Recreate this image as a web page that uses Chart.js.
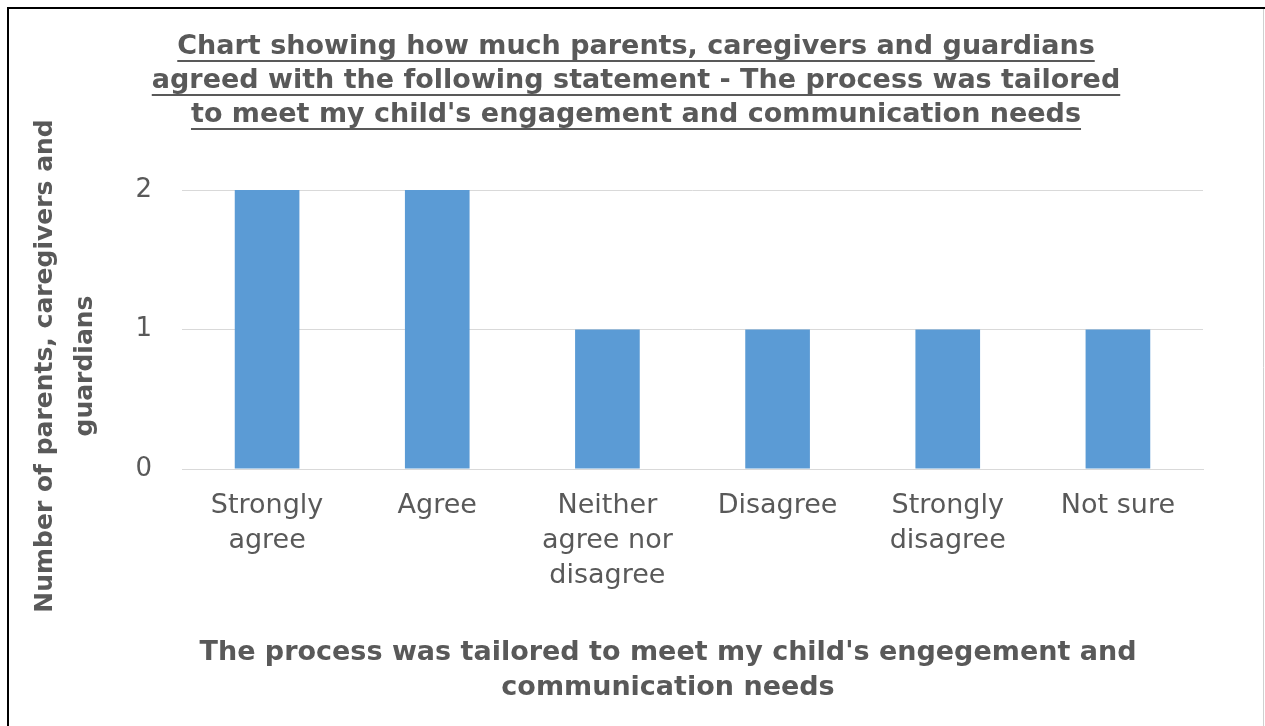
<!DOCTYPE html>
<html>
<head>
<meta charset="utf-8">
<script src="https://cdn.jsdelivr.net/npm/chart.js@4/dist/chart.umd.min.js"></script>
<style>
  html, body { margin: 0; padding: 0; background: #fff; }
  #wrap { width: 1265px; height: 726px; position: relative; }
</style>
</head>
<body>
<div id="wrap"><canvas id="chart"></canvas></div>
<script>
const categories = [
    ['Strongly', 'agree'],
    ['Agree'],
    ['Neither', 'agree nor', 'disagree'],
    ['Disagree'],
    ['Strongly', 'disagree'],
    ['Not sure'],
]
const counts = [2, 2, 1, 1, 1, 1]
const yTicks = [0, 1, 2]

const titleLines = [
    'Chart showing how much parents, caregivers and guardians',
    'agreed with the following statement - The process was tailored',
    "to meet my child's engagement and communication needs",
]
const yTitleLines = ['Number of parents, caregivers and', 'guardians']
const xTitleLines = ["The process was tailored to meet my child's engegement and", 'communication needs']

const textColor = '#595959'
const fontFamily = '"DejaVu Sans", Verdana, sans-serif'

// title, axis titles and frame are drawn by hand, centred on the whole chart like the original
const decorations = {
    id: 'decorations',
    beforeDraw(chart) {
        const ctx = chart.ctx
        ctx.save()
        ctx.fillStyle = '#fff'
        ctx.fillRect(0, 0, chart.width, chart.height)
        ctx.strokeStyle = '#000'
        ctx.lineWidth = 2
        ctx.beginPath()
        ctx.moveTo(8, chart.height)
        ctx.lineTo(8, 8)
        ctx.lineTo(chart.width, 8)
        ctx.stroke()
        ctx.strokeStyle = '#d0d0d0'
        ctx.lineWidth = 1
        ctx.beginPath()
        ctx.moveTo(1263.5, 9)
        ctx.lineTo(1263.5, chart.height)
        ctx.stroke()
        ctx.restore()
    },
    afterDraw(chart) {
        const ctx = chart.ctx
        ctx.save()
        ctx.fillStyle = textColor
        ctx.strokeStyle = textColor
        ctx.textAlign = 'center'
        ctx.textBaseline = 'middle'

        // chart title, underlined
        ctx.font = 'bold 27px ' + fontFamily
        titleLines.forEach((line, i) => {
            const y = 47 + i * 34
            ctx.fillText(line, 636, y)
            const w = ctx.measureText(line).width
            ctx.lineWidth = 2
            ctx.beginPath()
            ctx.moveTo(636 - w / 2, y + 14)
            ctx.lineTo(636 + w / 2, y + 14)
            ctx.stroke()
        })

        // x axis title
        ctx.font = 'bold 27px ' + fontFamily
        xTitleLines.forEach((line, i) => ctx.fillText(line, 668, 653 + i * 35))

        // y axis title
        ctx.font = 'bold 25px ' + fontFamily
        ctx.translate(0, 366)
        ctx.rotate(-Math.PI / 2)
        yTitleLines.forEach((line, i) => ctx.fillText(line, 0, 45 + i * 40))
        ctx.restore()
    }
}

new Chart(document.getElementById('chart'), {
    type: 'bar',
    data: {
        labels: categories,
        datasets: [{
            data: counts,
            backgroundColor: '#5b9bd5',
            borderWidth: 0,
            categoryPercentage: 1,
            barPercentage: 0.38,
        }]
    },
    options: {
        responsive: true,
        maintainAspectRatio: false,
        animation: false,
        layout: { padding: { left: 122, right: 62, top: 190, bottom: 127 } },
        plugins: {
            legend: { display: false },
            title: { display: false },
            tooltip: { enabled: false },
        },
        scales: {
            x: {
                afterFit: scale => { scale.height = 130 },
                grid: { display: false, drawTicks: false },
                border: { color: '#d9d9d9', width: 1 },
                ticks: {
                    color: textColor,
                    padding: 19,
                    maxRotation: 0,
                    autoSkip: false,
                    font: { family: fontFamily, size: 27, lineHeight: 35 / 27 },
                },
            },
            y: {
                min: 0,
                max: 2,
                afterFit: scale => { scale.width = 60 },
                afterBuildTicks: scale => { scale.ticks = yTicks.map(v => ({ value: v })) },
                grid: { color: '#d9d9d9', drawTicks: false },
                border: { display: false },
                ticks: {
                    color: textColor,
                    padding: 30,
                    font: { family: fontFamily, size: 26 },
                },
            },
        },
    },
    plugins: [decorations],
})
</script>
</body>
</html>
